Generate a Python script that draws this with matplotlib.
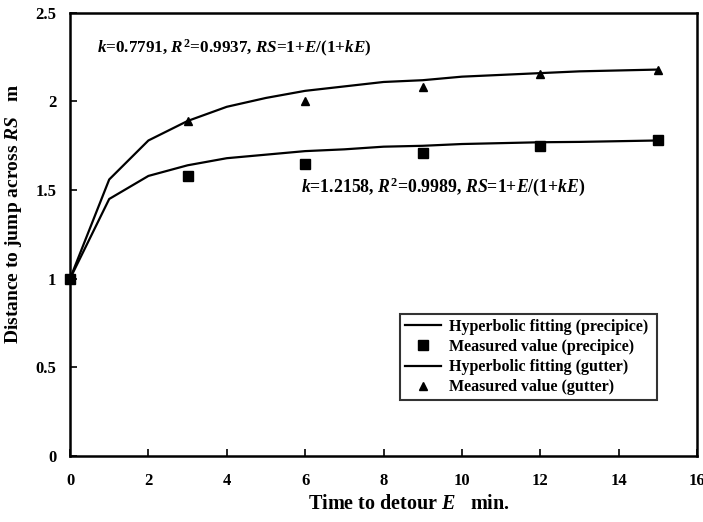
import matplotlib
matplotlib.use("Agg")
import matplotlib.pyplot as plt

plt.rcParams['font.family'] = 'Liberation Serif'
plt.rcParams['font.weight'] = 'bold'
plt.rcParams['axes.labelweight'] = 'bold'
plt.rcParams['mathtext.fontset'] = 'custom'
plt.rcParams['mathtext.rm'] = 'Liberation Serif:bold'
plt.rcParams['mathtext.it'] = 'Liberation Serif:bold:italic'
plt.rcParams['mathtext.bf'] = 'Liberation Serif:bold'

# fitted curves, read at integer E
fit_E = [0, 1, 2, 3, 4, 5, 6, 7, 8, 9, 10, 11, 12, 13, 14, 15]
fit_precipice = [1.0, 1.45, 1.58, 1.64, 1.68, 1.70, 1.72, 1.73, 1.745, 1.75,
                 1.76, 1.765, 1.77, 1.772, 1.776, 1.78]
fit_gutter = [1.0, 1.56, 1.78, 1.89, 1.97, 2.02, 2.06, 2.085, 2.11, 2.12,
              2.14, 2.15, 2.16, 2.17, 2.175, 2.18]

# measured points
meas_E = [0, 3, 6, 9, 12, 15]
meas_precipice = [1.0, 1.58, 1.65, 1.71, 1.75, 1.78]
meas_gutter = [1.0, 1.89, 2.00, 2.08, 2.155, 2.18]

fig = plt.figure(figsize=(7.03, 5.22), dpi=100)
ax = fig.add_axes([0.0996, 0.1264, 0.892, 0.849])

ax.plot(fit_E, fit_precipice, color='black', lw=1.6, label='Hyperbolic fitting (precipice)')
ax.plot(meas_E, meas_precipice, ls='none', marker='s', ms=7, color='black',
        label='Measured value (precipice)', clip_on=False)
ax.plot(fit_E, fit_gutter, color='black', lw=1.6, label='Hyperbolic fitting (gutter)')
ax.plot(meas_E, meas_gutter, ls='none', marker='^', ms=6, color='black',
        label='Measured value (gutter)', clip_on=False)

ax.set_xlim(0, 16)
ax.set_ylim(0, 2.5)
ax.set_xticks(range(0, 17, 2))
ax.set_yticks([0, 0.5, 1, 1.5, 2, 2.5])
ax.set_yticklabels(['0', '0.5', '1', '1.5', '2', '2.5'])
ax.tick_params(direction='in', length=5, width=1.2, labelsize=12, pad=12)
ax.tick_params(axis='y', pad=10)
for lab in ax.get_xticklabels() + ax.get_yticklabels():
    lab.set_fontweight('bold')
for s in ax.spines.values():
    s.set_linewidth(1.8)

ax.set_xlabel('Time to detour $E$   min.', fontsize=14.5)
ax.set_ylabel('Distance to jump across $RS$   m', fontsize=14)
ax.xaxis.set_label_coords(0.54, -0.085)
ax.yaxis.set_label_coords(-0.073, 0.545)

ax.text(0.7, 2.3, '$k$=0.7791, $R^2$=0.9937, $RS$=1+$E$/(1+$kE$)',
        fontsize=12.3, fontweight='bold', va='center')
ax.text(5.9, 1.52, '$k$=1.2158, $R^2$=0.9989, $RS$=1+$E$/(1+$kE$)',
        fontsize=12.8, fontweight='bold', va='center')

leg = ax.legend(loc='lower left', bbox_to_anchor=(0.526, 0.126, 0.41, 0.192),
                mode='expand', frameon=True, fancybox=False,
                prop={'family': 'Liberation Serif', 'weight': 'bold', 'size': 11.5},
                handlelength=2.3, borderpad=0.3, labelspacing=0.26,
                handletextpad=0.5, borderaxespad=0)
leg.get_frame().set_edgecolor('black')
leg.get_frame().set_linewidth(1.5)

fig.savefig('out.png', dpi=100)
